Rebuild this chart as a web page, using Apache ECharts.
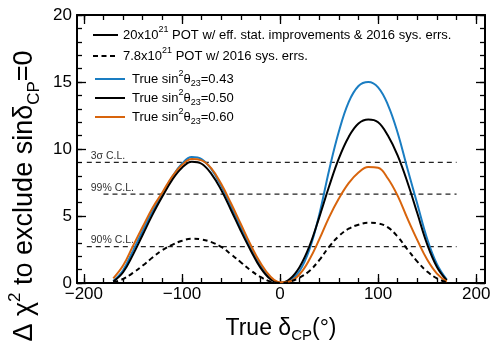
<!DOCTYPE html>
<html>
<head>
<meta charset="utf-8">
<script src="https://cdn.jsdelivr.net/npm/echarts@6/dist/echarts.min.js"></script>
<style>
html, body { margin: 0; padding: 0; background: #fff; }
#main { width: 493px; height: 345px; }
</style>
</head>
<body>
<div id="main"></div>
<script>
// true delta_CP (degrees)
var deltaCP = [-170, -160, -150, -140, -130, -120, -110, -100, -90, -80, -70, -60, -50, -40, -30, -20, -10, 0,
               10, 20, 30, 40, 50, 60, 70, 80, 90, 100, 110, 120, 130, 140, 150, 160, 170];

// 20x10^21 POT, sin^2 theta23 = 0.43 / 0.50 / 0.60
var chi2s043 = [0.15, 0.95, 2.4, 3.9, 5.35, 6.6, 7.9, 8.9, 9.4, 9.25, 8.5, 7.25, 5.75, 4.15, 2.65, 1.3, 0.35, 0.0,
                0.2, 0.9, 2.5, 5.1, 8.4, 11.3, 13.5, 14.7, 15.0, 14.6, 13.3, 11.2, 8.5, 5.9, 3.3, 1.4, 0.25];
var chi2s050 = [0.1, 0.8, 2.1, 3.6, 5.1, 6.45, 7.7, 8.6, 9.05, 8.9, 8.15, 6.95, 5.45, 3.9, 2.45, 1.15, 0.3, 0.0,
                0.3, 1.2, 2.75, 4.9, 7.2, 9.3, 10.9, 11.9, 12.2, 12.0, 11.0, 9.5, 7.5, 5.2, 2.9, 1.2, 0.2];
var chi2s060 = [0.35, 1.3, 2.75, 4.2, 5.6, 6.75, 7.95, 8.8, 9.25, 9.15, 8.55, 7.4, 5.95, 4.4, 2.85, 1.5, 0.5, 0.05,
                0.12, 0.65, 1.75, 3.25, 4.9, 6.3, 7.45, 8.25, 8.65, 8.6, 7.8, 6.5, 4.8, 3.2, 1.75, 0.7, 0.1];
// 7.8x10^21 POT w/ 2016 sys. errs.
var chi2pot78 = [0.05, 0.3, 0.75, 1.3, 1.9, 2.45, 2.85, 3.15, 3.3, 3.25, 3.05, 2.7, 2.15, 1.55, 0.95, 0.45, 0.12, 0.0,
                 0.1, 0.4, 0.9, 1.7, 2.7, 3.5, 4.05, 4.35, 4.5, 4.45, 4.15, 3.45, 2.5, 1.6, 0.85, 0.35, 0.05];

// confidence levels
var clNames = ['3σ C.L.', '99% C.L.', '90% C.L.'];
var clValues = [9.0, 6.63, 2.71];
var clStart = [-197, -180, -197];
var clEnd = 180;

// axes
var xMajorTicks = [-200, -100, 0, 100, 200];
var yMajorTicks = [0, 5, 10, 15, 20];
var xMin = -207, xMax = 209;
var yMin = 0, yMax = 20;

var FONT = "'Liberation Sans', Arial, Helvetica, sans-serif";
var BLUE = '#1a7dc2', ORANGE = '#d8640c';

var xMinorTicks = [], yMinorTicks = [];
for (var t = -200; t <= 200; t += 20) xMinorTicks.push(t);
for (var u = 0; u <= 20; u += 1) yMinorTicks.push(u);

function pairs(ys) {
  return deltaCP.map(function (x, i) { return [x, ys[i]]; });
}

function makeAxis(isX, pos, ticks, len, showLine, showLabel) {
  return {
    type: 'value',
    position: pos,
    min: isX ? xMin : yMin,
    max: isX ? xMax : yMax,
    axisLine: { show: showLine, onZero: false, lineStyle: { color: '#000', width: 2 } },
    axisTick: { show: true, inside: true, length: len, customValues: ticks,
                lineStyle: { color: '#000', width: 1.3 } },
    axisLabel: {
      show: showLabel,
      customValues: ticks,
      color: '#000',
      fontFamily: FONT,
      fontSize: 17,
      margin: isX ? 3 : 5,
      formatter: function (v) { return String(v).replace('-', '\u2212'); }
    },
    splitLine: { show: false }
  };
}

// rich styles for super/subscripts: the line box is taller than the main font,
// so 'top' / 'bottom' tokens get raised / lowered
function scripts(size) {
  return {
    sup: { fontSize: size, lineHeight: size, fontFamily: FONT, fill: '#000', verticalAlign: 'top' },
    sub: { fontSize: size, lineHeight: size, fontFamily: FONT, fill: '#000', verticalAlign: 'bottom' }
  };
}

var chart = echarts.init(document.getElementById('main'));

var series = [
  { name: 'sin2 0.43', type: 'line', data: pairs(chi2s043), smooth: 0.4, symbol: 'none',
    lineStyle: { color: BLUE, width: 2 }, z: 3 },
  { name: 'sin2 0.50', type: 'line', data: pairs(chi2s050), smooth: 0.4, symbol: 'none',
    lineStyle: { color: '#000', width: 2 }, z: 4 },
  { name: 'sin2 0.60', type: 'line', data: pairs(chi2s060), smooth: 0.4, symbol: 'none',
    lineStyle: { color: ORANGE, width: 2 }, z: 5 },
  { name: '7.8e21', type: 'line', data: pairs(chi2pot78), smooth: 0.4, symbol: 'none',
    lineStyle: { color: '#000', width: 2, type: [5, 3.5] }, z: 5 }
];
clValues.forEach(function (v, i) {
  series.push({
    name: clNames[i], type: 'line', data: [[clStart[i], v], [clEnd, v]], symbol: 'none', silent: true,
    lineStyle: { color: '#222', width: 1.2, type: [5, 4] }, z: 2
  });
});

// legend (drawn by hand, ROOT style)
function legText(x, y, txt) {
  return { type: 'text', x: x, y: y, z: 20,
    style: { text: txt, rich: scripts(9), fontSize: 13, lineHeight: 19, fontFamily: FONT, fill: '#000',
             align: 'left', verticalAlign: 'middle', textAlign: 'left', textVerticalAlign: 'middle' } };
}
function legLine(x1, x2, y, color, dash) {
  return { type: 'line', z: 20, shape: { x1: x1, y1: y, x2: x2, y2: y },
    style: { stroke: color, lineWidth: 2, lineDash: dash || null } };
}

var graphics = [
  legLine(93, 118, 35, '#000'),
  legText(123, 35, '20x10{sup|21} POT w/ eff. stat. improvements & 2016 sys. errs.'),
  legLine(93, 118, 56, '#000', [5, 3.5]),
  legText(123, 56, '7.8x10{sup|21} POT w/ 2016 sys. errs.'),
  legLine(95, 125, 79, BLUE),
  legText(132, 79, 'True sin{sup|2}θ{sub|23}=0.43'),
  legLine(95, 125, 98, '#000'),
  legText(132, 98, 'True sin{sup|2}θ{sub|23}=0.50'),
  legLine(95, 125, 117, ORANGE),
  legText(132, 117, 'True sin{sup|2}θ{sub|23}=0.60'),
  // axis titles
  { type: 'text', x: 25, y: 196, rotation: Math.PI / 2, z: 20,
    style: { text: 'Δ χ{sup|2} to exclude sinδ{sub|CP}=0', fontSize: 27, lineHeight: 36,
             fontFamily: FONT, fill: '#000', rich: scripts(17),
             align: 'center', verticalAlign: 'middle', textAlign: 'center', textVerticalAlign: 'middle' } },
  { type: 'text', x: 281, y: 329, z: 20,
    style: { text: 'True δ{sub|CP}(°)', fontSize: 23, lineHeight: 29, fontFamily: FONT, fill: '#000',
             rich: scripts(15),
             align: 'center', verticalAlign: 'middle', textAlign: 'center', textVerticalAlign: 'middle' } }
];

var option = {
  animation: false,
  backgroundColor: '#fff',
  grid: { left: 77, right: 8, top: 15, bottom: 62, containLabel: false, outerBoundsMode: 'none' },
  xAxis: [
    makeAxis(true, 'bottom', xMajorTicks, 9, true, true),
    makeAxis(true, 'bottom', xMinorTicks, 5, false, false),
    makeAxis(true, 'top', xMajorTicks, 9, true, false),
    makeAxis(true, 'top', xMinorTicks, 5, false, false)
  ],
  yAxis: [
    makeAxis(false, 'left', yMajorTicks, 9, true, true),
    makeAxis(false, 'left', yMinorTicks, 5, false, false),
    makeAxis(false, 'right', yMajorTicks, 9, true, false),
    makeAxis(false, 'right', yMinorTicks, 5, false, false)
  ],
  series: series,
  graphic: graphics
};
chart.setOption(option);

// C.L. labels placed from the data scale
var clLabels = clValues.map(function (v, i) {
  var p = chart.convertToPixel({ xAxisIndex: 0, yAxisIndex: 0 }, [-193, v]);
  return { type: 'text', x: p[0], y: p[1] - 1, z: 20,
    style: { text: clNames[i], fontSize: 10.5, fontFamily: FONT, fill: '#333',
             align: 'left', verticalAlign: 'bottom', textAlign: 'left', textVerticalAlign: 'bottom' } };
});
chart.setOption({ graphic: graphics.concat(clLabels) });
</script>
</body>
</html>
